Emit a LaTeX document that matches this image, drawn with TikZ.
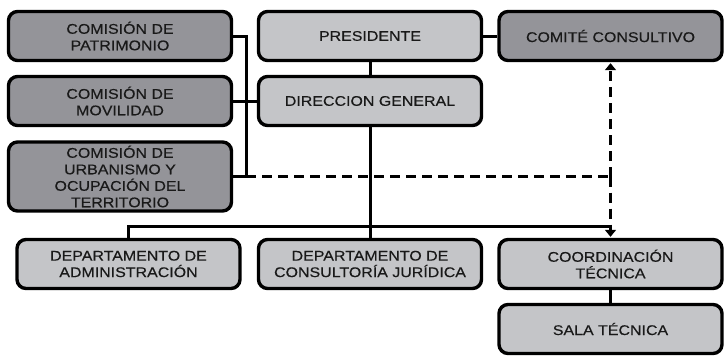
\documentclass[tikz,border=0pt]{standalone}
\usepackage{fontspec}
\setmainfont{Liberation Sans}[FakeStretch=1.14, FakeBold=0.4]
\usepackage{tikz}
\usetikzlibrary{calc,arrows.meta}
\definecolor{darkbox}{HTML}{949499}
\definecolor{lightbox}{HTML}{C4C5C8}
\def\drawline{\draw[line width=3pt]}
\def\drawdash{\draw[line width=3.4pt, dash pattern=on 10pt off 6pt]}
\tikzset{
  unit/.style={draw=black, line width=3.4pt, rounded corners=9pt, inner sep=0pt,
    minimum width=223pt, minimum height=49pt, align=center, text=black!90,
    font=\fontsize{14}{16.5}\selectfont},
  comision/.style={unit, fill=darkbox},
  oficina/.style={unit, fill=lightbox},
  tip/.style={-{Triangle[length=7pt,width=11pt]}}
}

\begin{document}
\begin{tikzpicture}[x=1pt,y=-1pt]
\useasboundingbox (0,0) rectangle (727,359);

% -------- comisiones on the left ---------
\node[comision] (patri) at (120,36) {COMISIÓN DE\\PATRIMONIO};
\node[comision] (movil) at (120,101) {COMISIÓN DE\\MOVILIDAD};
\node[comision, minimum height=69pt] (urban) at (120,176.5) {COMISIÓN DE\\URBANISMO Y\\OCUPACIÓN DEL\\TERRITORIO};

% -------- top of the chart ---------
\node[oficina] (pres) at (370,36) {PRESIDENTE};
\node[oficina] (dg) at (370,101) {DIRECCION GENERAL};
\node[comision] (comite) at (610.5,36) {COMITÉ CONSULTIVO};

% -------- departments ---------
\node[oficina] (admin) at (128.5,264) {DEPARTAMENTO DE\\ADMINISTRACIÓN};
\node[oficina] (consult) at (370,264) {DEPARTAMENTO DE\\CONSULTORÍA JURÍDICA};
\node[oficina] (coord) at (610.5,264) {COORDINACIÓN\\TÉCNICA};
\node[oficina] (sala) at (610.5,329) {SALA TÉCNICA};

% bracket joining the comisiones
\coordinate (brtop) at ($ (patri.east) + (13,0) $);
\coordinate (brbot) at ($ (urban.east) + (13,0) $);
\drawline (patri.east) -- (brtop) -- (brbot) -- (urban.east);
\drawline (movil.east) -- (dg.west);

% main line
\drawline (pres) -- (dg);
\drawline (pres.east) -- (comite.west);
\drawline (dg.south) -- (consult.north);

% bus over the departments
\coordinate (bus) at ($ (coord.north) - (0,11) $);
\drawline (admin.north) |- (bus);

% dashed link to comite and coordinacion
\coordinate (junc) at (brbot -| comite.south);
\drawdash (brbot) -- (junc);
\drawdash[tip] (junc) -- ($ (comite.south) + (0,1) $);
\drawdash[tip] (junc) -- ($ (coord.north) - (0,1) $);
\drawline (coord) -- (sala);
\end{tikzpicture}
\end{document}
